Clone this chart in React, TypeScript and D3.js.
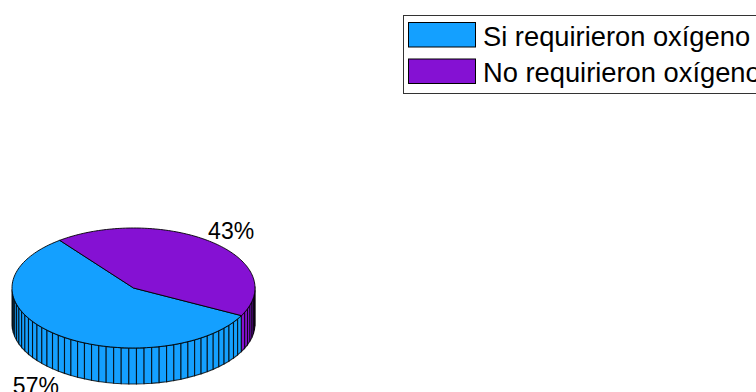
import React from "react";
import * as d3 from "d3";

const labels = ["Si requirieron oxígeno", "No requirieron oxígeno"];
const values = [57, 43];
const pctLabels = ["57%", "43%"];
const colors = ["#14A0FF", "#8511D3"];

const W = 756;
const H = 392;
const cx = 133.5;
const cy = 288;
const rx = 121.5;
const ry = 60;
const depth = 36;
const startDeg = 127.4;
const FONT = "'Liberation Sans', Arial, Helvetica, sans-serif";

export default function App() {
  const total = d3.sum(values);
  const toRad = (d: number) => (d * Math.PI) / 180;
  const angScale = d3.scaleLinear().domain([0, total]).range([toRad(startDeg), toRad(startDeg + 360)]);
  const cum = d3.cumsum(values);
  const slices = values.map((v, i) => {
    const a0 = angScale(i === 0 ? 0 : cum[i - 1]);
    const a1 = angScale(cum[i]);
    return { v, i, a0, a1 };
  });
  const px = (a: number) => cx + rx * Math.cos(a);
  const py = (a: number) => cy - ry * Math.sin(a);

  // side facets: 1% per facet
  const facets: { a0: number; a1: number; color: string }[] = [];
  slices.forEach((s) => {
    const n = Math.max(1, Math.ceil((s.v / total) * 100));
    for (let k = 0; k < n; k++) {
      const b0 = s.a0 + ((s.a1 - s.a0) * k) / n;
      const b1 = s.a0 + ((s.a1 - s.a0) * (k + 1)) / n;
      facets.push({ a0: b0, a1: b1, color: colors[s.i] });
    }
  });
  const visible = facets.filter((f) => Math.sin((f.a0 + f.a1) / 2) < 0);

  const topPath = (a0: number, a1: number) => {
    const steps = 120;
    const pts: [number, number][] = [[cx, cy]];
    for (let k = 0; k <= steps; k++) {
      const a = a0 + ((a1 - a0) * k) / steps;
      pts.push([px(a), py(a)]);
    }
    return d3.line()(pts) + "Z";
  };

  return (
    <svg width={W} height={H} style={{ position: "absolute", left: 0, top: 0, background: "#fff" }}>
      <rect x={0} y={0} width={W} height={H} fill="#fff" />
      <g>
        {visible.map((f, k) => {
          const pts: [number, number][] = [
            [px(f.a0), py(f.a0)],
            [px(f.a1), py(f.a1)],
            [px(f.a1), py(f.a1) + depth],
            [px(f.a0), py(f.a0) + depth],
          ];
          return (
            <path
              key={k}
              d={d3.line()(pts) + "Z"}
              fill={f.color}
              stroke="#000"
              strokeWidth={1.1}
              strokeOpacity={0.8}
            />
          );
        })}
      </g>
      <g>
        {slices.map((s) => (
          <path key={s.i} d={topPath(s.a0, s.a1)} fill={colors[s.i]} stroke="#000" strokeWidth={0.9} strokeLinejoin="round" />
        ))}
      </g>
      <g fontFamily={FONT} fontSize={23} fill="#000">
        {slices.map((s) => {
          const m = (s.a0 + s.a1) / 2;
          const x = cx + rx * 1.25 * Math.cos(m);
          const y = cy - ry * 1.24 * Math.sin(m) + (Math.sin(m) < 0 ? depth + 5 : 0);
          return (
            <text key={s.i} x={x} y={y} textAnchor="middle" dominantBaseline="central">
              {pctLabels[s.i]}
            </text>
          );
        })}
      </g>
      <g fontFamily={FONT} fontSize={27.3}>
        <rect x={403.5} y={15.5} width={380} height={78} fill="#fff" stroke="#333" strokeWidth={1} />
        {labels.map((l, i) => (
          <g key={i}>
            <rect x={408.5} y={22.5 + i * 36.5} width={67} height={24.5} fill={colors[i]} stroke="#000" strokeWidth={1} />
            <text x={483} y={45.5 + i * 36} fill="#000">
              {l}
            </text>
          </g>
        ))}
      </g>
    </svg>
  );
}
